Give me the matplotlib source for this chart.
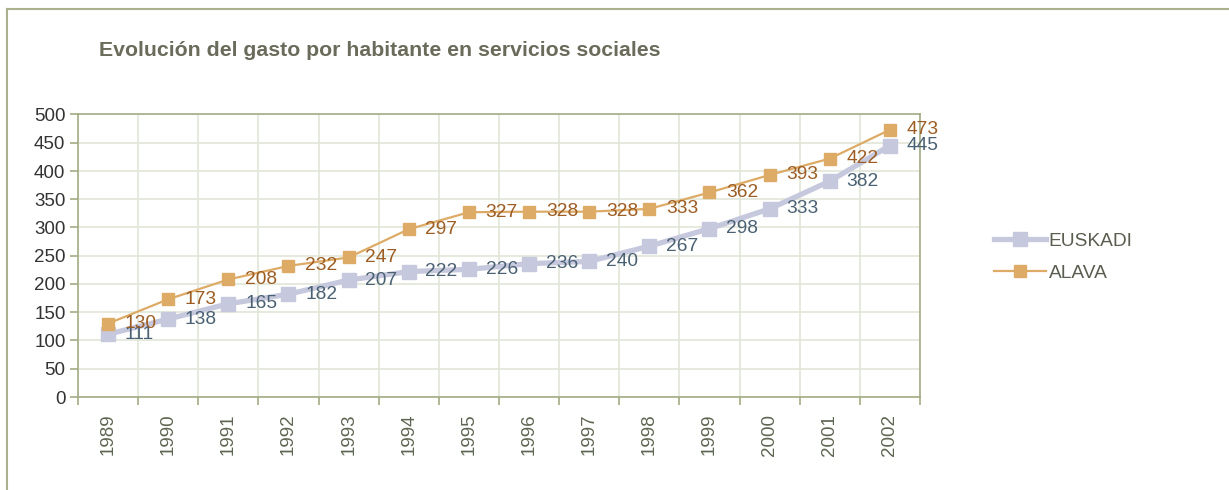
import matplotlib
matplotlib.use("Agg")
from matplotlib import pyplot as plt
from matplotlib.lines import Line2D

plt.rcParams["font.family"] = ["Liberation Sans", "DejaVu Sans"]

years = ["1989", "1990", "1991", "1992", "1993", "1994", "1995",
         "1996", "1997", "1998", "1999", "2000", "2001", "2002"]
euskadi = [111, 138, 165, 182, 207, 222, 226, 236, 240, 267, 298, 333, 382, 445]
alava = [130, 173, 208, 232, 247, 297, 327, 328, 328, 333, 362, 393, 422, 473]

W, H = 1229, 490
fig = plt.figure(figsize=(W / 100, H / 100), dpi=100)
ax = fig.add_axes([78 / W, 1 - 397 / H, (920 - 78) / W, (397 - 114.5) / H])

# outer frame of the chart object
frame_color = "#A9B18E"
fig.add_artist(Line2D([7 / W, 7 / W], [0, 1 - 9 / H], color=frame_color, lw=1.5,
                      transform=fig.transFigure))
fig.add_artist(Line2D([7 / W, 1], [1 - 9 / H, 1 - 9 / H], color=frame_color, lw=1.5,
                      transform=fig.transFigure))

x = list(range(len(years)))
ax.plot(x, euskadi, color="#C6C8DD", lw=3.8, marker="s", markersize=10.5,
        label="EUSKADI", zorder=3)
ax.plot(x, alava, color="#DDAB66", lw=1.6, marker="s", markersize=9,
        label="ALAVA", zorder=4)

for xi, v in zip(x, euskadi):
    ax.annotate(str(v), (xi, v), xytext=(12, 0), textcoords="offset points",
                va="center", ha="left", fontsize=13.8, color="#4A6173", zorder=5)
for xi, v in zip(x, alava):
    ax.annotate(str(v), (xi, v), xytext=(12, 0), textcoords="offset points",
                va="center", ha="left", fontsize=13.8, color="#9D5C22", zorder=6)

ax.set_xlim(-0.5, len(years) - 0.5)
ax.set_ylim(0, 500)
ax.set_yticks(range(0, 501, 50))
ax.set_xticks(x)
ax.set_xticklabels(years, rotation=90, fontsize=13.5, color="#5E6652")
ax.set_xticks([i - 0.5 for i in range(len(years) + 1)], minor=True)
ax.tick_params(axis="x", which="major", length=0, pad=12)
ax.tick_params(axis="x", which="minor", length=6, color="#A3AC85", width=1.2)
ax.tick_params(axis="y", length=6, color="#A3AC85", width=1.2, labelsize=13.5,
               labelcolor="#333333", pad=3)

ax.grid(True, which="major", axis="y", color="#E2E6D8", lw=1.2)
ax.grid(True, which="minor", axis="x", color="#E2E6D8", lw=1.2)
ax.set_axisbelow(True)
for side in ["left", "bottom", "right", "top"]:
    ax.spines[side].set_color("#A3AC85")
    ax.spines[side].set_linewidth(1.2)

fig.text(99 / W, 1 - 51 / H, "Evolución del gasto por habitante en servicios sociales",
         fontsize=15.3, fontweight="bold", color="#6A6B5A", va="center", ha="left")

fig.legend(loc="center left", bbox_to_anchor=(977 / W, 1 - 257 / H), frameon=False,
           fontsize=13.8, labelcolor="#5A5E50", handlelength=2.7, handletextpad=0.15,
           labelspacing=0.75)

fig.savefig("out.png", dpi=100)
